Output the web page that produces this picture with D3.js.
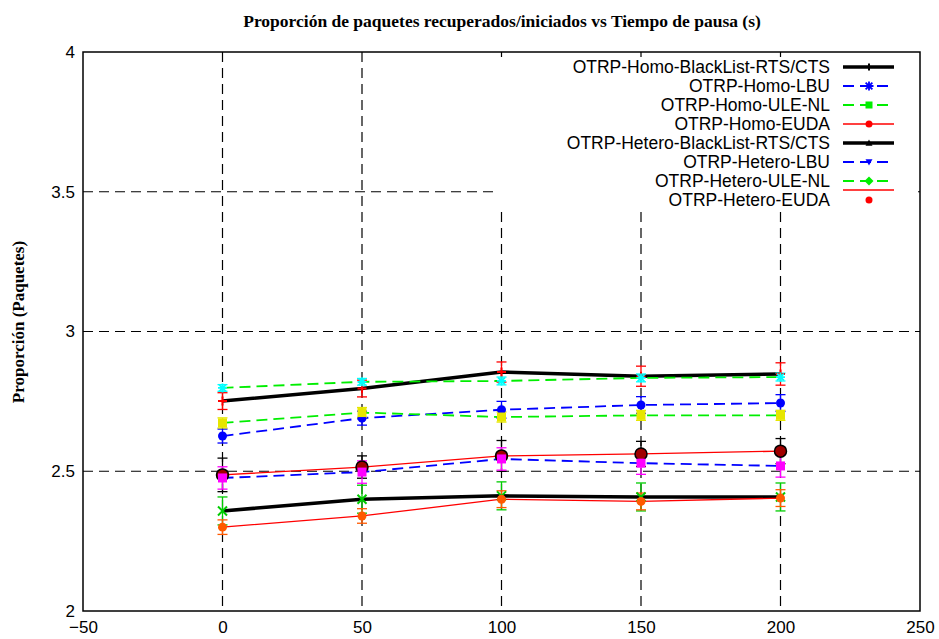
<!DOCTYPE html>
<html><head><meta charset="utf-8">
<script src="https://cdn.jsdelivr.net/npm/d3@7"></script>
<style>
html,body{margin:0;padding:0;background:#fff;}
svg{display:block;}
</style></head>
<body>
<svg id="chart" width="939" height="639"></svg>
<script>
// ---------- data ----------
const pauseTimes = [0, 50, 100, 150, 200];
const xTicks = [-50, 0, 50, 100, 150, 200, 250];
const yTicks = [2, 2.5, 3, 3.5, 4];
const seriesNames = [
  "OTRP-Homo-BlackList-RTS/CTS", "OTRP-Homo-LBU", "OTRP-Homo-ULE-NL", "OTRP-Homo-EUDA",
  "OTRP-Hetero-BlackList-RTS/CTS", "OTRP-Hetero-LBU", "OTRP-Hetero-ULE-NL", "OTRP-Hetero-EUDA"
];
const homoBlackList   = [2.751, 2.796, 2.855, 2.840, 2.848];
const homoLBU         = [2.626, 2.690, 2.720, 2.737, 2.744];
const homoULENL       = [2.798, 2.820, 2.823, 2.834, 2.837];
const homoEUDA        = [2.487, 2.515, 2.555, 2.562, 2.572];
const heteroBlackList = [2.358, 2.400, 2.412, 2.408, 2.408];
const heteroLBU       = [2.476, 2.497, 2.544, 2.529, 2.519];
const heteroULENL     = [2.673, 2.710, 2.694, 2.700, 2.700];
const heteroEUDA      = [2.300, 2.340, 2.400, 2.392, 2.404];

const homoBlackListErr   = [0.030, 0.030, 0.036, 0.036, 0.040];
const homoLBUErr         = [0.025, 0.025, 0.030, 0.030, 0.030];
const homoULENLErr       = [0.012, 0.012, 0.014, 0.014, 0.014];
const homoEUDAErr        = [0.060, 0.040, 0.055, 0.045, 0.045];
const heteroBlackListErr = [0.050, 0.050, 0.050, 0.050, 0.050];
const heteroLBUErr       = [0.040, 0.040, 0.040, 0.040, 0.040];
const heteroULENLErr     = [0.018, 0.018, 0.018, 0.018, 0.018];
const heteroEUDAErr      = [0.026, 0.026, 0.030, 0.030, 0.030];

const seriesValues = [homoBlackList, homoLBU, homoULENL, homoEUDA,
                      heteroBlackList, heteroLBU, heteroULENL, heteroEUDA];
const seriesErrors = [homoBlackListErr, homoLBUErr, homoULENLErr, homoEUDAErr,
                      heteroBlackListErr, heteroLBUErr, heteroULENLErr, heteroEUDAErr];

// ---------- styles ----------
const lineColors = ["#000", "#0000ff", "#00ee00", "#ff0000", "#000", "#0000ff", "#00ee00", "#ff0000"];
const lineWidths = [3.5, 1.8, 1.8, 1.3, 3.5, 1.8, 1.8, 1.3];
const lineDash   = [null, "11,6", "11,6", null, null, "11,6", "11,6", null];
const lineMarks  = ["plus", "star", "square", "circle", "triangle", "triangleDown", "diamond", "circle"];
const errColors  = ["#ff0000", "#0000ff", "#00ffff", "#000000", "#00cc00", "#ff00ff", "#e6e600", "#ff5a00"];
const errMarks   = ["plus", "circle", "star", "bigCircle", "cross", "square", "square", "circle"];

const svg = d3.select("#chart");
const L = 83, R = 920, T = 52, B = 611;
const x = d3.scaleLinear().domain([-50, 250]).range([L, R]);
const y = d3.scaleLinear().domain([2, 4]).range([B, T]);

// grid
const g = svg.append("g");
g.selectAll(".vg").data(xTicks.filter(v => v > -50 && v < 250)).enter().append("line")
  .attr("x1", d => x(d)).attr("x2", d => x(d)).attr("y1", T).attr("y2", B)
  .attr("stroke", "#000").attr("stroke-width", 1.2).attr("stroke-dasharray", "10,6");
g.selectAll(".hg").data(yTicks.filter(v => v > 2 && v < 4)).enter().append("line")
  .attr("x1", L).attr("x2", R).attr("y1", d => y(d)).attr("y2", d => y(d))
  .attr("stroke", "#000").attr("stroke-width", 1.2).attr("stroke-dasharray", "10,6");

// legend background box (covers grid)
svg.append("rect").attr("x", 497).attr("y", 57).attr("width", 421).attr("height", 150).attr("fill", "#fff");

// border
svg.append("rect").attr("x", L).attr("y", T).attr("width", R - L).attr("height", B - T)
  .attr("fill", "none").attr("stroke", "#000").attr("stroke-width", 1.5);

// axes labels
const xAxis = d3.axisBottom(x).tickValues(xTicks).tickSize(0).tickPadding(10).tickFormat(d3.format("d"));
const xa = svg.append("g").attr("transform", `translate(0,${B})`).call(xAxis);
xa.select(".domain").remove();
xa.selectAll("text").attr("font-family", "Liberation Sans, Arial, sans-serif").attr("font-size", 17).attr("fill", "#000");
const yAxis = d3.axisLeft(y).tickValues(yTicks).tickSize(0).tickPadding(8).tickFormat(d => String(d));
const ya = svg.append("g").attr("transform", `translate(${L},0)`).call(yAxis);
ya.select(".domain").remove();
ya.selectAll("text").attr("font-family", "Liberation Sans, Arial, sans-serif").attr("font-size", 17).attr("fill", "#000");

// title and y label
svg.append("text").attr("x", 502).attr("y", 27).attr("text-anchor", "middle")
  .attr("font-family", "Liberation Serif, Times New Roman, serif").attr("font-weight", "bold").attr("font-size", 17.5)
  .text("Proporción de paquetes recuperados/iniciados vs Tiempo de pausa (s)");
svg.append("text").attr("transform", "translate(24,322) rotate(-90)").attr("text-anchor", "middle")
  .attr("font-family", "Liberation Serif, Times New Roman, serif").attr("font-weight", "bold").attr("font-size", 17)
  .text("Proporción (Paquetes)");

// marker drawing
function marker(sel, type, cx, cy, color, size) {
  const s = size || 4;
  if (type === "circle") sel.append("circle").attr("cx", cx).attr("cy", cy).attr("r", s).attr("fill", color);
  else if (type === "bigCircle") sel.append("circle").attr("cx", cx).attr("cy", cy).attr("r", s + 1.5).attr("fill", "#a00000").attr("stroke", color).attr("stroke-width", 1.5);
  else if (type === "square") sel.append("rect").attr("x", cx - s).attr("y", cy - s).attr("width", 2 * s).attr("height", 2 * s).attr("fill", color);
  else if (type === "diamond") sel.append("path").attr("d", `M${cx},${cy - s - 1}L${cx + s + 1},${cy}L${cx},${cy + s + 1}L${cx - s - 1},${cy}Z`).attr("fill", color);
  else if (type === "triangle") sel.append("path").attr("d", `M${cx},${cy - s}L${cx + s},${cy + s * 0.8}L${cx - s},${cy + s * 0.8}Z`).attr("fill", color);
  else if (type === "triangleDown") sel.append("path").attr("d", `M${cx},${cy + s}L${cx + s},${cy - s * 0.8}L${cx - s},${cy - s * 0.8}Z`).attr("fill", color);
  else if (type === "plus") sel.append("path").attr("d", `M${cx - s},${cy}H${cx + s}M${cx},${cy - s}V${cy + s}`).attr("stroke", color).attr("stroke-width", 2);
  else if (type === "cross") sel.append("path").attr("d", `M${cx - s},${cy - s}L${cx + s},${cy + s}M${cx - s},${cy + s}L${cx + s},${cy - s}`).attr("stroke", color).attr("stroke-width", 2);
  else if (type === "star") sel.append("path").attr("d", `M${cx - s},${cy}H${cx + s}M${cx},${cy - s}V${cy + s}M${cx - s * 0.75},${cy - s * 0.75}L${cx + s * 0.75},${cy + s * 0.75}M${cx - s * 0.75},${cy + s * 0.75}L${cx + s * 0.75},${cy - s * 0.75}`).attr("stroke", color).attr("stroke-width", 1.8);
}

// lines
const lineGen = d3.line().x((d, i) => x(pauseTimes[i])).y(d => y(d));
const linesG = svg.append("g");
seriesValues.forEach((vals, k) => {
  linesG.append("path").attr("d", lineGen(vals)).attr("fill", "none")
    .attr("stroke", lineColors[k]).attr("stroke-width", lineWidths[k])
    .attr("stroke-dasharray", lineDash[k]);
});

// error bars
const errG = svg.append("g");
seriesValues.forEach((vals, k) => {
  vals.forEach((v, i) => {
    const cx = x(pauseTimes[i]);
    const e = seriesErrors[k][i];
    const y1 = y(v + e), y2 = y(v - e);
    errG.append("line").attr("x1", cx).attr("x2", cx).attr("y1", y1).attr("y2", y2)
      .attr("stroke", errColors[k]).attr("stroke-width", 1.3);
    [y1, y2].forEach(yy => errG.append("line").attr("x1", cx - 5).attr("x2", cx + 5).attr("y1", yy).attr("y2", yy)
      .attr("stroke", errColors[k]).attr("stroke-width", 1.3));
  });
});
seriesValues.forEach((vals, k) => {
  vals.forEach((v, i) => marker(errG, errMarks[k], x(pauseTimes[i]), y(v), errColors[k], 4.5));
});

// legend
const legG = svg.append("g");
seriesNames.forEach((name, k) => {
  const ry = 67 + k * 19;
  legG.append("text").attr("x", 830).attr("y", ry).attr("dy", "0.35em").attr("text-anchor", "end")
    .attr("font-family", "Liberation Sans, Arial, sans-serif").attr("font-size", 17.5).attr("fill", "#000")
    .text(name);
  const ly = (k === 7) ? ry - 10 : ry;
  legG.append("line").attr("x1", 843).attr("x2", 894).attr("y1", ly).attr("y2", ly)
    .attr("stroke", lineColors[k]).attr("stroke-width", lineWidths[k]).attr("stroke-dasharray", lineDash[k]);
  marker(legG, lineMarks[k], 869, ry, lineColors[k], k === 1 ? 4.5 : 3.5);
});
</script>
</body></html>
